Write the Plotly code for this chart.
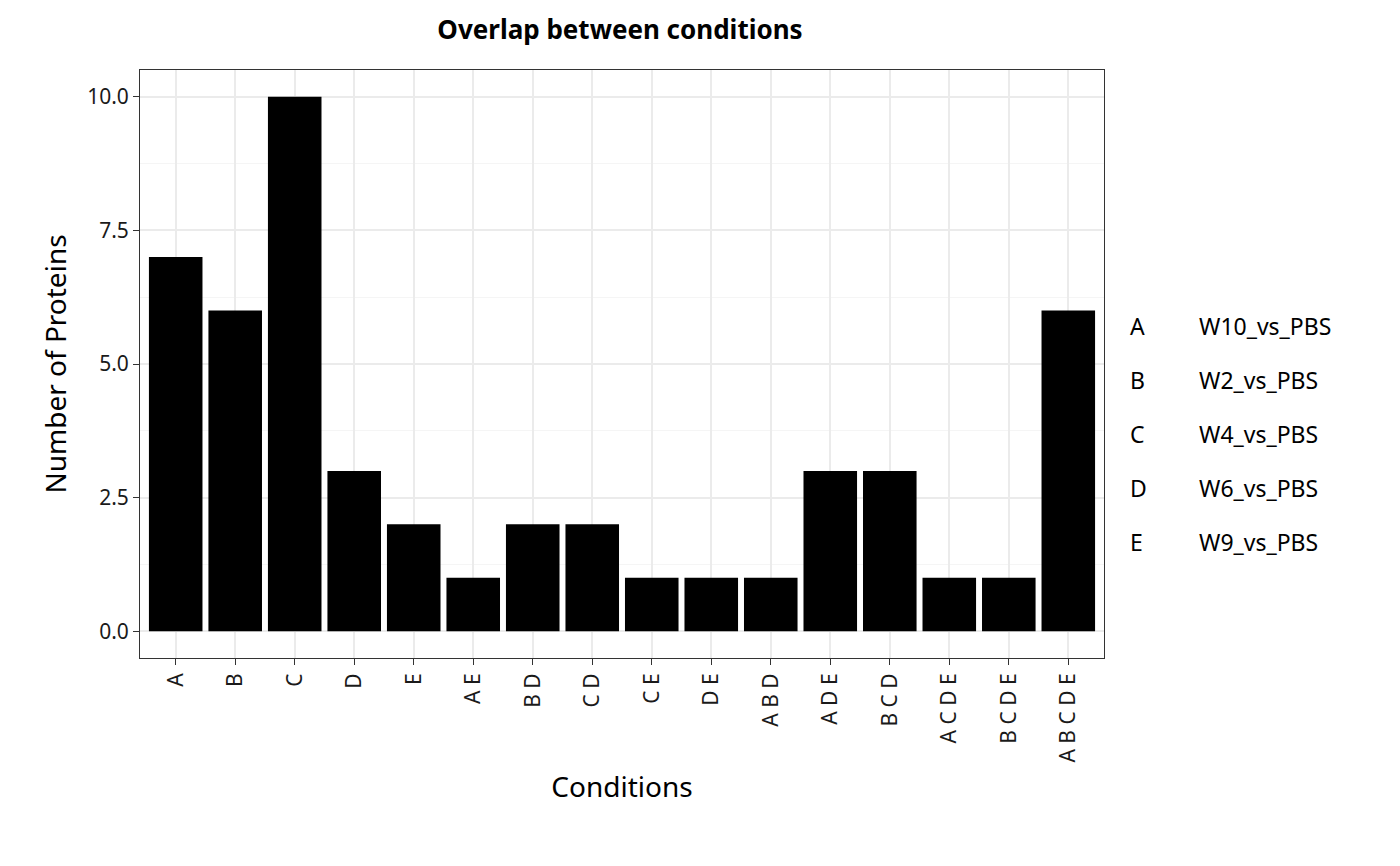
import plotly.graph_objects as go

categories = ["A", "B", "C", "D", "E", "A E", "B D", "C D", "C E", "D E",
              "A B D", "A D E", "B C D", "A C D E", "B C D E", "A B C D E"]
counts = [7, 6, 10, 3, 2, 1, 2, 2, 1, 1, 1, 3, 3, 1, 1, 6]
legend_keys = ["A", "B", "C", "D", "E"]
legend_names = ["W10_vs_PBS", "W2_vs_PBS", "W4_vs_PBS", "W6_vs_PBS", "W9_vs_PBS"]

font = "Noto Sans"
L, R, T, B = 132, 304, 62, 216
pw, ph = 1400 - L - R, 866 - T - B

fig = go.Figure(go.Bar(x=categories, y=counts, marker_color="black",
                       marker_line_width=0, width=0.9))

fig.update_layout(
    width=1400, height=866,
    margin=dict(l=L, r=R, t=T, b=B),
    plot_bgcolor="white", paper_bgcolor="white",
    font=dict(family=font, size=23, color="black"),
    showlegend=False,
    title=dict(text="<b>Overlap between conditions</b>", x=(620 - 8) / 1400, xanchor="center",
               y=1 - (30 - 8) / 866, yanchor="middle", font=dict(size=26)),
)
fig.update_xaxes(
    range=[-0.6, 15.6], tickangle=-90, ticks="outside", ticklen=6, tickcolor="#333",
    showgrid=True, gridcolor="#ebebeb", gridwidth=1.5,
    showline=True, linecolor="#333", mirror=True,
    tickfont=dict(size=21, color="#1a1a1a"),
    title=dict(text="Conditions", font=dict(size=28)),
)
fig.update_yaxes(
    range=[-0.5, 10.5], tickvals=[0, 2.5, 5, 7.5, 10],
    ticktext=["0.0", "2.5", "5.0", "7.5", "10.0"],
    ticks="outside", ticklen=6, tickcolor="#333",
    showgrid=True, gridcolor="#ebebeb", gridwidth=1.5,
    minor=dict(tickvals=[1.25, 3.75, 6.25, 8.75], showgrid=True, gridcolor="#f5f5f5", gridwidth=1),
    zeroline=False, showline=True, linecolor="#333", mirror=True,
    tickfont=dict(size=21, color="#1a1a1a"),
    title=dict(text="Number of Proteins", font=dict(size=28), standoff=12),
)

for i, (k, n) in enumerate(zip(legend_keys, legend_names)):
    ypix = 326 - 8 + i * 54
    yp = (866 - B - ypix) / ph
    fig.add_annotation(text=k, x=(1128 - 8 - L) / pw, y=yp, xref="paper", yref="paper",
                       showarrow=False, xanchor="left", yanchor="middle", font=dict(size=23))
    fig.add_annotation(text=n, x=(1197 - 8 - L) / pw, y=yp, xref="paper", yref="paper",
                       showarrow=False, xanchor="left", yanchor="middle", font=dict(size=23))

fig.write_html("out.html")
